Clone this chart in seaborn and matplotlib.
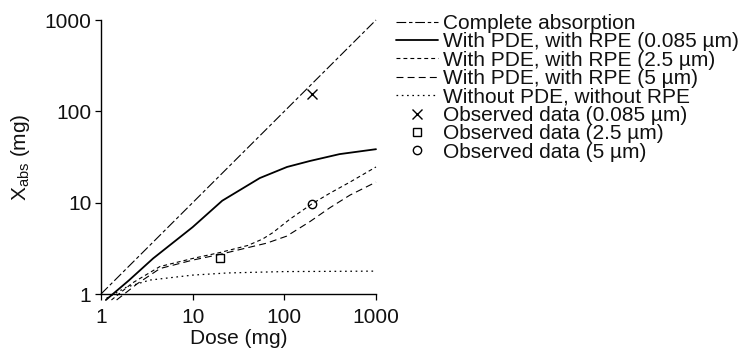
import numpy as np
import pandas as pd
import matplotlib
matplotlib.use("Agg")
import matplotlib.pyplot as plt
import seaborn as sns

# ---- data ----
complete_x = [1, 10, 100, 1000]
complete_y = [1, 10, 100, 1000]

pde_0085_x = [1.13, 2.0, 3.7, 10, 21, 54, 107, 190, 400, 1000]
pde_0085_y = [0.86, 1.4, 2.45, 5.4, 10.5, 18.6, 24.6, 28.6, 34, 38.5]

pde_25_x = [1.3, 2.2, 4.4, 10, 20, 40, 58, 75, 115, 200, 314, 520, 1000]
pde_25_y = [0.86, 1.32, 2.0, 2.45, 2.85, 3.4, 4.0, 4.7, 6.6, 9.7, 12.7, 16.8, 24.6]

pde_5_x = [1.48, 2.5, 4.4, 10, 20, 39, 64, 106, 190, 314, 520, 1000]
pde_5_y = [0.86, 1.3, 1.9, 2.35, 2.72, 3.2, 3.6, 4.3, 6.2, 8.8, 12.1, 16.8]

nopde_x = [1.15, 1.9, 3.4, 10, 24, 100, 1000]
nopde_y = [0.9, 1.19, 1.42, 1.61, 1.7, 1.76, 1.78]

obs_0085 = ([200], [155])
obs_25 = ([20], [2.45])
obs_5 = ([200], [9.7])

ticks = [1, 10, 100, 1000]
tick_labels = ["1", "10", "100", "1000"]

labels = [
    "Complete absorption",
    "With PDE, with RPE (0.085 \u00b5m)",
    "With PDE, with RPE (2.5 \u00b5m)",
    "With PDE, with RPE (5 \u00b5m)",
    "Without PDE, without RPE",
    "Observed data (0.085 \u00b5m)",
    "Observed data (2.5 \u00b5m)",
    "Observed data (5 \u00b5m)",
]

# ---- style ----
sns.set_theme(style="white")
plt.rcParams["font.family"] = ["Liberation Sans", "DejaVu Sans"]
plt.rcParams["mathtext.fontset"] = "custom"
plt.rcParams["mathtext.rm"] = "Liberation Sans"
plt.rcParams["mathtext.it"] = "Liberation Sans:italic"
plt.rcParams["lines.scale_dashes"] = False
FS = 15
TXT = "#111111"

fig = plt.figure(figsize=(7.41, 3.51), dpi=100)
ax = fig.add_axes([101 / 741, 1 - 294 / 351, (376 - 101) / 741, (294 - 20) / 351])

def curve(x, y, lab, ls, lw=0.9):
    df = pd.DataFrame({"x": x, "y": y})
    sns.lineplot(data=df, x="x", y="y", ax=ax, color="black", lw=lw,
                 linestyle=ls, label=lab, estimator=None, sort=False,
                 clip_on=False)

curve(complete_x, complete_y, labels[0], (0, (7, 2, 2.5, 2)), 0.8)
curve(pde_0085_x, pde_0085_y, labels[1], "-", 1.3)
curve(pde_25_x, pde_25_y, labels[2], (0, (2.8, 2.2)), 0.8)
curve(pde_5_x, pde_5_y, labels[3], (0, (5, 3)), 0.8)
curve(nopde_x, nopde_y, labels[4], (0, (1.2, 2.6)), 0.9)

def obs(pt, lab, marker, ms):
    df = pd.DataFrame({"x": pt[0], "y": pt[1]})
    sns.lineplot(data=df, x="x", y="y", ax=ax, color="black", linestyle="none",
                 marker=marker, markersize=ms, markerfacecolor="none",
                 markeredgecolor="black", markeredgewidth=1.0, label=lab,
                 estimator=None, clip_on=False)

obs(obs_0085, labels[5], "x", 7)
obs(obs_25, labels[6], "s", 6)
obs(obs_5, labels[7], "o", 6)

ax.set_xscale("log")
ax.set_yscale("log")
ax.set_xlim(1, 1000)
ax.set_ylim(1, 1000)
ax.set_xticks(ticks)
ax.set_xticklabels(tick_labels)
ax.set_yticks(ticks)
ax.set_yticklabels(tick_labels)
ax.minorticks_off()
ax.tick_params(axis="both", which="major", direction="out", length=4,
               width=0.9, color="black", labelsize=FS, labelcolor=TXT, pad=3,
               bottom=True, left=True)
ax.tick_params(axis="x", pad=6)
for s in ["top", "right"]:
    ax.spines[s].set_visible(False)
for s in ["left", "bottom"]:
    ax.spines[s].set_color("black")
    ax.spines[s].set_linewidth(1.0)

ax.set_xlabel("Dose (mg)", fontsize=FS, color=TXT, labelpad=1.5)
ax.set_ylabel("X$_{\\mathrm{abs}}$ (mg)", fontsize=FS, color=TXT, labelpad=9)

leg = ax.legend(loc="upper left", bbox_to_anchor=(396 / 741, 1 - 14 / 351),
                bbox_transform=fig.transFigure, frameon=False, fontsize=FS,
                borderpad=0, borderaxespad=0, labelspacing=-0.03,
                handlelength=2.0, handletextpad=0.25, numpoints=1)
for t in leg.get_texts():
    t.set_color(TXT)

fig.savefig("out.png", dpi=100)
